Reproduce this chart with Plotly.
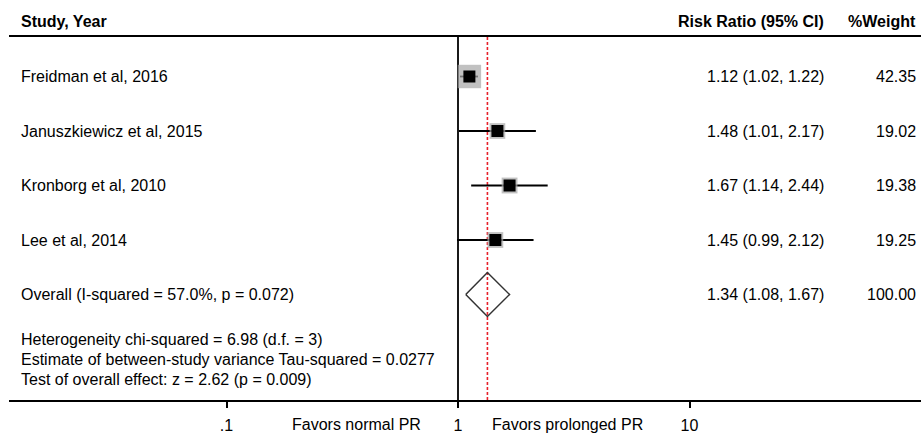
import plotly.graph_objects as go
import math

# ---- data ----
studies = ["Freidman et al, 2016", "Januszkiewicz et al, 2015",
           "Kronborg et al, 2010", "Lee et al, 2014"]
rr = [1.12, 1.48, 1.67, 1.45]
ci_low = [1.02, 1.01, 1.14, 0.99]
ci_high = [1.22, 2.17, 2.44, 2.12]
weights = [42.35, 19.02, 19.38, 19.25]
overall_label = "Overall (I-squared = 57.0%, p = 0.072)"
overall_rr = 1.34
overall_low = 1.08
overall_high = 1.67
overall_weight = 100.00
stats_lines = ["Heterogeneity chi-squared = 6.98 (d.f. = 3)",
               "Estimate of between-study variance Tau-squared = 0.0277",
               "Test of overall effect: z = 2.62 (p = 0.009)"]
tick_vals = [0.1, 1, 10]
tick_text = [".1", "1", "10"]
favors_left = "Favors normal PR"
favors_right = "Favors prolonged PR"
headers = ["Study, Year", "Risk Ratio (95% CI)", "%Weight"]

FONT = "Liberation Sans, Arial, sans-serif"
W, H = 921, 442
ML, MR, MT, MB = 9, 0, 37, 42
plot_w = W - ML - MR
plot_h = H - MT - MB

# x: log axis, px = 458 + 231.5*log10(v)
x_c, dec = 458.0, 231.5
xr = [(ML - x_c) / dec, (W - MR - x_c) / dec]
# y: row index, px = 76.5 + 54.5*row
y0px, rowh = 76.5, 54.5
def ypx(px):
    return (px - y0px) / rowh
yr = [ypx(H - MB), ypx(MT)]

def xpaper(px):
    return (px - ML) / plot_w

def ypaper(px):
    return (H - MB - px) / plot_h

n = len(studies)
rows = list(range(n))
orow = n

fig = go.Figure()

# reference line at 1
fig.add_trace(go.Scatter(x=[1, 1], y=yr, mode="lines",
                         line=dict(color="black", width=1.8),
                         hoverinfo="skip", showlegend=False))
# overall dashed line
fig.add_trace(go.Scatter(x=[overall_rr, overall_rr], y=yr, mode="lines",
                         line=dict(color="#e8202a", width=1.6, dash="3px,2px"),
                         hoverinfo="skip", showlegend=False))

# CI lines
for i in rows:
    fig.add_trace(go.Scatter(x=[ci_low[i], ci_high[i]], y=[i, i], mode="lines",
                             line=dict(color="black", width=1.8),
                             hoverinfo="skip", showlegend=False))

# weight boxes
fig.add_trace(go.Scatter(x=rr, y=rows, mode="markers",
                         marker=dict(symbol="square", color="#a6a6a6",
                                     size=[3.6 * math.sqrt(w) for w in weights],
                                     line=dict(width=0)),
                         hoverinfo="skip", showlegend=False))
# point estimates
fig.add_trace(go.Scatter(x=rr, y=rows, mode="markers",
                         marker=dict(symbol="square", color="black", size=12,
                                     line=dict(width=0)),
                         hoverinfo="skip", showlegend=False))

# overall diamond
dh = 22 / rowh
fig.add_trace(go.Scatter(x=[overall_low, overall_rr, overall_high, overall_rr, overall_low],
                         y=[orow, orow - dh, orow, orow + dh, orow],
                         mode="lines", line=dict(color="#333333", width=1.5),
                         hoverinfo="skip", showlegend=False))

ann = []
def add_text(txt, xp, px, anchor, bold=False):
    ann.append(dict(text=f"<b>{txt}</b>" if bold else txt, x=xp, y=ypaper(px),
                    xref="paper", yref="paper", xanchor=anchor, yanchor="middle",
                    showarrow=False, font=dict(family=FONT, size=16, color="black")))

def row_px(r):
    return y0px + rowh * r

left_x = xpaper(19)
ci_x = xpaper(826)
w_x = xpaper(918)

hy = 21
add_text(headers[0], left_x, hy, "left", bold=True)
add_text(headers[1], ci_x, hy, "right", bold=True)
add_text(headers[2], w_x, hy, "right", bold=True)

for i in rows:
    add_text(studies[i], left_x, row_px(i), "left")
    add_text(f"{rr[i]:.2f} ({ci_low[i]:.2f}, {ci_high[i]:.2f})", ci_x, row_px(i), "right")
    add_text(f"{weights[i]:.2f}", w_x, row_px(i), "right")

add_text(overall_label, left_x, row_px(orow), "left")
add_text(f"{overall_rr:.2f} ({overall_low:.2f}, {overall_high:.2f})", ci_x, row_px(orow), "right")
add_text(f"{overall_weight:.2f}", w_x, row_px(orow), "right")

for line, px in zip(stats_lines, [339, 359, 379]):
    add_text(line, left_x, px, "left")

fy = 424
add_text(favors_left, xpaper(356.7), fy, "center")
add_text(favors_right, xpaper(567.5), fy, "center")

fig.update_layout(
    width=W, height=H,
    margin=dict(l=ML, r=MR, t=MT, b=MB),
    paper_bgcolor="white", plot_bgcolor="white",
    showlegend=False,
    annotations=ann,
    xaxis=dict(type="log", range=xr, showgrid=False, zeroline=False,
               showline=True, linecolor="black", linewidth=2, mirror=True,
               tickvals=tick_vals, ticktext=tick_text,
               ticks="outside", ticklen=6, tickwidth=2, tickcolor="black",
               ticklabelstandoff=4,
               tickfont=dict(family=FONT, size=16, color="black"),
               fixedrange=True),
    yaxis=dict(range=yr, showgrid=False, zeroline=False, showline=False,
               showticklabels=False, ticks="", fixedrange=True),
)

fig.write_html("out.html", config={"displayModeBar": False},
               post_script="document.body.style.margin='0';document.body.style.overflow='hidden';")
